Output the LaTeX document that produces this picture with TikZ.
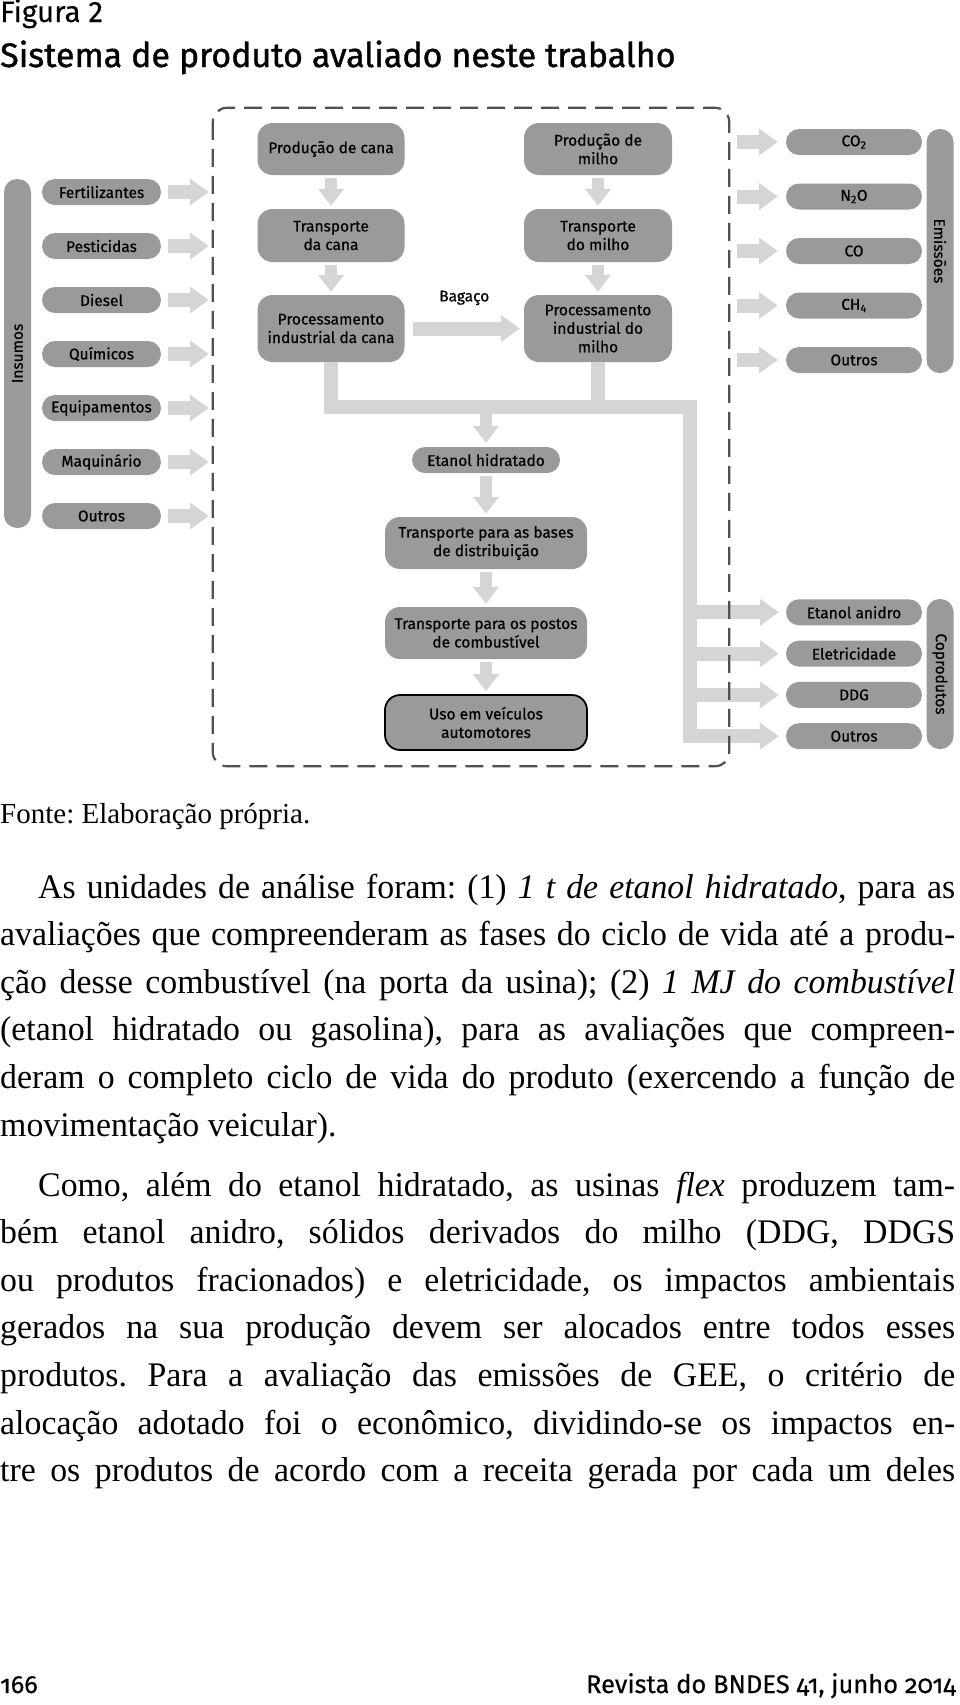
\documentclass[tikz,border=0pt]{standalone}
\usepackage{fontspec}
\setmainfont{Liberation Serif}
\newfontfamily\bodyfont[FakeStretch=0.98]{Liberation Serif}
\newfontfamily\figfont[FakeBold=0.6]{Fira Sans}
\newfontfamily\headfont[FakeBold=0.2]{Fira Sans}
\newfontfamily\titlefont[FakeBold=1.1]{Fira Sans}
\newfontfamily\footfont[Numbers=OldStyle, FakeBold=0.4]{Fira Sans}
\usetikzlibrary{arrows.meta}

\definecolor{boxgray}{HTML}{9A9A9A}
\definecolor{flowgray}{HTML}{D5D5D5}
\definecolor{dashgray}{HTML}{505050}

\begin{document}
\begin{tikzpicture}[x=1pt, y=-1pt,
	box/.style={fill=boxgray, rounded corners=15pt, align=center, inner sep=0pt,
		font={\figfont\fontsize{15.5}{18.5}\selectfont}},
	pill/.style={box, rounded corners=13pt, minimum height=26pt},
	bar/.style={pill, minimum height=27pt},
	flowR/.style={draw=flowgray, line width=14pt, -{Triangle[length=19pt, width=26pt]}},
	flowD/.style={draw=flowgray, line width=12pt, -{Triangle[length=17pt, width=25pt]},
		shorten <=3pt, shorten >=3pt},
	pipe/.style={draw=flowgray, line width=14pt, line join=miter},
	sysline/.style={draw=dashgray, line width=2.2pt, dash pattern=on 18pt off 9pt, rounded corners=14pt},
	page/.style={anchor=base west, inner sep=0pt},
	para/.style={page, text width=955pt, align=justify, font={\bodyfont\fontsize{34.5}{47.6}\selectfont}}
]

	\useasboundingbox (0,0) rectangle (960,1705);

	\def\colcana{331}
	\def\colmilho{598}
	\def\colmain{486}

	% heading
	\node[page, font={\headfont\fontsize{29.5}{34}\selectfont}] (figno) at (0,22) {Figura 2};
	\node[page, font={\titlefont\fontsize{34}{40}\selectfont}] (title) at (0,67) {Sistema de produto avaliado neste trabalho};

	% system boundary, drawn at the end
	\node[minimum width=516pt, minimum height=658pt, inner sep=0pt] (sys) at (471,437) {};

	% inputs
	\node[bar, rotate=90, minimum width=349pt] (insumos) at (17.5,353.5) {Insumos};
	\foreach \txt [count=\i] in {Fertilizantes, Pesticidas, Diesel, Químicos, Equipamentos, Maquinário, Outros} {
		\node[pill, minimum width=119pt] (ins\i) at (101.5, 138+54*\i) {\txt};
		\draw[flowR, shorten <=7pt, shorten >=4pt] (ins\i.east) -- (ins\i.east -| sys.west);
	}

	% cana and milho chains
	\node[box, minimum width=147pt, minimum height=52pt] (prodcana) at (\colcana,149) {Produção de cana};
	\node[box, minimum width=147pt, minimum height=53pt] (transcana) at (\colcana,235.5) {Transporte\\da cana};
	\node[box, minimum width=147pt, minimum height=67pt] (proccana) at (\colcana,328.5) {Processamento\\industrial da cana};

	\node[box, minimum width=148pt, minimum height=52pt] (prodmilho) at (\colmilho,149) {Produção de\\milho};
	\node[box, minimum width=148pt, minimum height=53pt] (transmilho) at (\colmilho,235.5) {Transporte\\do milho};
	\node[box, minimum width=148pt, minimum height=67pt] (procmilho) at (\colmilho,328.5) {Processamento\\industrial do\\milho};

	\draw[flowD] (prodcana) -- (transcana);
	\draw[flowD] (transcana) -- (proccana);
	\draw[flowD] (prodmilho) -- (transmilho);
	\draw[flowD] (transmilho) -- (procmilho);

	\draw[flowR, shorten <=8pt, shorten >=4pt] (proccana) -- (procmilho)
		node[midway, above=13pt, font={\figfont\fontsize{15.5}{18.5}\selectfont}] (bagaco) {Bagaço};

	% ethanol chain
	\node[pill, minimum width=148pt] (etanol) at (\colmain,460) {Etanol hidratado};
	\node[box, minimum width=202pt, minimum height=52pt] (transbases) at (\colmain,543) {Transporte para as bases\\de distribuição};
	\node[box, minimum width=202pt, minimum height=52pt] (transpostos) at (\colmain,633) {Transporte para os postos\\de combustível};
	\node[box, draw=black, line width=1.8pt, minimum width=202pt, minimum height=55pt] (uso) at (\colmain,722.5) {Uso em veículos\\automotores};

	\draw[flowD] (etanol) -- (transbases);
	\draw[flowD] (transbases) -- (transpostos);
	\draw[flowD] (transpostos) -- (uso);

	% emissions
	\node[bar, rotate=-90, minimum width=244pt] (emissoes) at (940,251) {Emissões};
	\foreach \txt [count=\i] in {CO\textsubscript{2}, N\textsubscript{2}O, CO, CH\textsubscript{4}, Outros} {
		\node[pill, minimum width=136pt] (em\i) at (854, 87.5+54.5*\i) {\txt};
		\draw[flowR, shorten <=8pt, shorten >=8pt] (em\i.west -| sys.east) -- (em\i.west);
	}

	% coproducts
	\node[bar, rotate=-90, minimum width=150pt] (coprodutos) at (940,674) {Coprodutos};
	\foreach \txt [count=\i] in {Etanol anidro, Eletricidade, DDG, Outros} {
		\node[pill, minimum width=136pt] (cop\i) at (854, 571+41.3*\i) {\txt};
	}

	% product pipes
	\coordinate (busR) at (690,407);
	\draw[pipe] (procmilho.south) -- (procmilho.south |- busR);
	\draw[pipe, -{Triangle[length=19pt, width=26pt]}, shorten >=7pt] (proccana.south) |- (busR) |- (cop4.west);
	\draw[flowD, shorten <=7pt, shorten >=4pt] (etanol.north |- busR) -- (etanol.north);
	\foreach \i in {1,2,3} {
		\draw[flowR, shorten >=7pt] (cop\i.west -| busR) -- (cop\i.west);
	}

	\draw[sysline] (sys.north west) rectangle (sys.south east);

	% text of the page
	\node[page, font={\rmfamily\fontsize{29}{34}\selectfont}] (fonte) at (0,823) {\frenchspacing Fonte: Elaboração própria.};

	\node[para] (par1) at (0,898) {%
		\frenchspacing\hyphenpenalty=10000\exhyphenpenalty=10000
		\spaceskip=0.25em plus 0.3em minus 0.1em
		\hspace*{38pt}As unidades de análise foram: (1) \textit{1 t de etanol hidratado}, para as\linebreak
		avaliações que compreenderam as fases do ciclo de vida até a produ-\linebreak
		ção desse combustível (na porta da usina); (2) \textit{1 MJ do combustível}\linebreak
		(etanol hidratado ou gasolina), para as avaliações que compreen-\linebreak
		deram o completo ciclo de vida do produto (exercendo a função de\linebreak
		movimentação veicular).};

	\node[para] (par2) at (0,1196) {%
		\frenchspacing\hyphenpenalty=10000\exhyphenpenalty=10000
		\spaceskip=0.25em plus 0.3em minus 0.1em
		\hspace*{38pt}Como, além do etanol hidratado, as usinas \textit{flex} produzem tam-\linebreak
		bém etanol anidro, sólidos derivados do milho (DDG, DDGS\linebreak
		ou produtos fracionados) e eletricidade, os impactos ambientais\linebreak
		gerados na sua produção devem ser alocados entre todos esses\linebreak
		produtos. Para a avaliação das emissões de GEE, o critério de\linebreak
		alocação adotado foi o econômico, dividindo-se os impactos en-\linebreak
		tre os produtos de acordo com a receita gerada por cada um deles\parfillskip=0pt\par};

	\node[page, font={\footfont\fontsize{25}{30}\selectfont}] (pageno) at (0,1693) {166};
	\node[anchor=base east, inner sep=0pt, font={\footfont\fontsize{25.5}{30}\selectfont}] (journal) at (956,1693) {Revista do BNDES 41, junho 2014};

\end{tikzpicture}
\end{document}
